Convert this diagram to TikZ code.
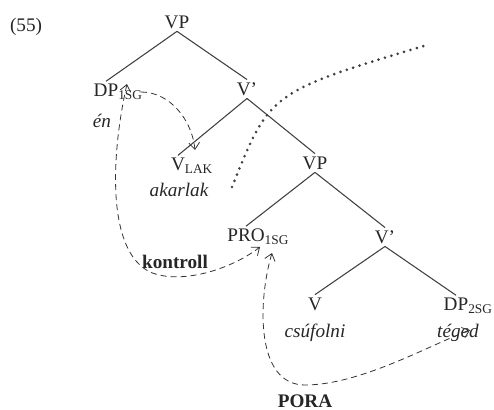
\documentclass[tikz,border=0pt]{standalone}
\usepackage{fontspec}
\setmainfont{Liberation Serif}
\usetikzlibrary{arrows.meta}
\newcommand{\sub}[1]{\rlap{\textsubscript{#1}}}
\begin{document}
\begin{tikzpicture}[x=0.75pt,y=-0.75pt,
    every node/.style={inner sep=2pt,font=\Large,text=black!85},
    word/.style={font=\Large\itshape},
    treeline/.style={thick,black!75},
    movearrow/.style={dash pattern=on 4.5pt off 3pt,semithick,black!80,>={Straight Barb[length=5pt,width=8pt]}}]
      \useasboundingbox (0,0) rectangle (494,410);
      \draw
        (26,27) node (ex){(55)}
        (106,92) node (dp1){DP\sub{1SG}}
        (177,22) node (vp1){VP}
        (102,121) node[word] (en){én}
        (247,89) node (vb1){V'}
        (178,166) node (vlak){V\sub{LAK}}
        (179,190) node[word] (akarlak){akarlak}
        (315,163) node (vp2){VP}
        (246,237) node (pro){PRO\sub{1SG}}
        (385,237) node (vb2){V'}
        (315,304) node (v){V}
        (315,333) node[word] (csufolni){csúfolni}
        (456,306) node (dp2){DP\sub{2SG}}
        (458,333) node[word] (teged){téged}
        (175,262) node[font=\Large\bfseries] (kontroll){kontroll}
        (305,401) node[font=\Large\bfseries] (pora){PORA};
      \begin{scope}[-,treeline]
        \draw (vp1.south) to (dp1.north);
        \draw (vp1.south) to (vb1.north);
        \draw (vb1.south) to (vlak.north);
        \draw (vb1.south) to (vp2.north);
        \draw (vp2.south) to (pro.north);
        \draw (vp2.south) to (vb2.north);
        \draw (vb2.south) to (v.north);
        \draw (vb2.south) to (dp2.north);
      \end{scope}
      % dotted boundary
      \coordinate (dotlow) at (232,187);
      \coordinate (dothigh) at (427,45);
      \draw[line width=2.2pt,line cap=round,dash pattern=on 0pt off 5pt,black!75]
        (dotlow) .. controls (270,92) .. (dothigh);
      % dashed movement arrows
      \coordinate (dptail) at (141,92);
      \coordinate (lakhead) at (195,150);
      \coordinate (enhead) at (127,84);
      \coordinate (prohead) at (260,247);
      \coordinate (proheadb) at (272,253);
      \coordinate (tegedhead) at (470,330);
      \begin{scope}[movearrow]
        \draw[->] (dptail) .. controls (170,92) and (192,120) .. (lakhead);
        \draw[<->] (enhead) .. controls (112,150) and (105,250) .. (150,272)
          .. controls (180,285) and (230,270) .. (prohead);
        \draw[<->] (proheadb) .. controls (258,300) and (255,385) .. (305,385)
          .. controls (360,385) and (430,345) .. (tegedhead);
      \end{scope}
    \end{tikzpicture}
\end{document}
